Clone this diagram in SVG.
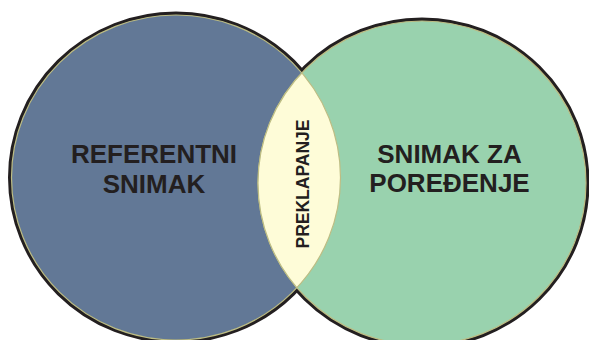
<svg xmlns="http://www.w3.org/2000/svg" width="589" height="340" viewBox="0 0 589 340">
  <style>
    .outline { fill: none; stroke: #231f20; stroke-width: 7; }
    .edge { stroke: #bdbd84; stroke-width: 1.2; }
    .label { font-family: "Liberation Sans", Arial, sans-serif; font-weight: bold; fill: #231f20; text-anchor: middle; }
  </style>
  <defs>
    <clipPath id="clipLeft"><ellipse cx="176" cy="177.5" rx="164.5" ry="162.5"/></clipPath>
    <clipPath id="clipRight"><ellipse cx="422" cy="183" rx="164" ry="162"/></clipPath>
  </defs>
  <rect width="589" height="340" fill="#ffffff"/>
  <g id="outlines">
    <ellipse class="outline" cx="176" cy="177.5" rx="164.5" ry="162.5"/>
    <ellipse class="outline" cx="422" cy="183" rx="164" ry="162"/>
  </g>
  <g id="referentni-snimak">
    <ellipse class="edge" cx="176" cy="177.5" rx="164.5" ry="162.5" fill="#627896"/>
  </g>
  <g id="snimak-za-poredjenje">
    <ellipse class="edge" cx="422" cy="183" rx="164" ry="162" fill="#99d2ae"/>
  </g>
  <g id="preklapanje">
    <g clip-path="url(#clipLeft)">
      <ellipse class="edge" cx="422" cy="183" rx="164" ry="162" fill="#fefcd8"/>
    </g>
    <g clip-path="url(#clipRight)">
      <ellipse class="edge" cx="176" cy="177.5" rx="164.5" ry="162.5" fill="none"/>
    </g>
    <text class="label" font-size="17.5" transform="translate(308.5,184) rotate(-90)">PREKLAPANJE</text>
  </g>
  <g id="labels">
    <text class="label" font-size="26" x="154" y="163">REFERENTNI</text>
    <text class="label" font-size="26" x="154" y="193">SNIMAK</text>
    <text class="label" font-size="26" x="449.5" y="163">SNIMAK ZA</text>
    <text class="label" font-size="26" x="449.5" y="192">POREĐENJE</text>
  </g>
</svg>
